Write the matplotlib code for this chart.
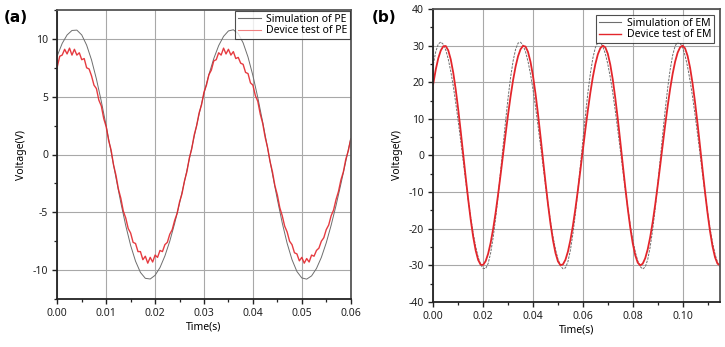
import matplotlib
matplotlib.use("Agg")
import matplotlib.pyplot as plt
from matplotlib.lines import Line2D
from matplotlib.ticker import MultipleLocator, FormatStrFormatter

plt.rcParams['font.family'] = ['Noto Sans', 'DejaVu Sans']
plt.rcParams['axes.unicode_minus'] = False

# ---------------- Panel (a): PE ----------------
pe_sim_t_ms = list(range(0, 61))
pe_sim_v = [8.55, 9.61, 10.34, 10.73, 10.76, 10.34, 9.46, 8.18, 6.53, 4.60,
            2.47, 0.23, -2.02, -4.19, -6.16, -7.87, -9.23, -10.20, -10.71, -10.77,
            -10.45, -9.78, -8.78, -7.50, -5.96, -4.22, -2.35, -0.39, 1.57, 3.49,
            5.29, 6.91, 8.30, 9.42, 10.22, 10.69, 10.79, 10.46, 9.66, 8.43,
            6.83, 4.93, 2.81, 0.57, -1.70, -3.89, -5.92, -7.68, -9.10, -10.12,
            -10.68, -10.78, -10.50, -9.86, -8.90, -7.64, -6.12, -4.41, -2.54, -0.59,
            1.38]

pe_dev_t_ms = [i * 0.5 for i in range(121)]
pe_dev_v = [7.6, 8.5, 8.6, 9.1, 8.7, 9.2, 8.6, 9.1, 8.6, 8.8,
            8.2, 8.3, 7.5, 7.4, 6.8, 6.0, 5.7, 4.7, 4.2, 3.1,
            2.4, 1.2, 0.4, -0.9, -1.8, -3.0, -3.8, -4.9, -5.5, -6.4,
            -6.8, -7.6, -7.7, -8.4, -8.4, -9.1, -8.8, -9.4, -8.9, -9.3,
            -8.7, -8.9, -8.3, -8.4, -7.8, -7.6, -6.9, -6.5, -5.7, -5.1,
            -4.1, -3.4, -2.3, -1.5, -0.3, 0.5, 1.7, 2.5, 3.6, 4.3,
            5.4, 6.0, 6.9, 7.3, 8.1, 8.2, 8.8, 8.6, 9.2, 8.7,
            9.1, 8.6, 8.9, 8.3, 8.4, 7.9, 7.8, 7.1, 7.0, 6.2,
            6.0, 5.1, 4.6, 3.5, 2.7, 1.5, 0.6, -0.6, -1.5, -2.7,
            -3.5, -4.6, -5.3, -6.2, -6.7, -7.5, -7.8, -8.5, -8.6, -9.2,
            -8.9, -9.4, -9.0, -9.3, -8.7, -8.8, -8.3, -8.1, -7.5, -7.2,
            -6.5, -6.1, -5.3, -4.8, -3.9, -3.2, -2.2, -1.5, -0.4, 0.3,
            1.3]

# ---------------- Panel (b): EM ----------------
em_t_ms = list(range(0, 116))
em_sim_v = [24.89, 28.39, 30.44, 30.99, 30.36, 28.78, 26.31, 23.00, 18.98, 14.38,
            9.32, 3.97, -1.51, -6.94, -12.15, -16.98, -21.28, -24.92, -27.78, -29.77,
            -30.83, -30.88, -29.49, -26.63, -22.44, -17.13, -10.97, -4.26, 2.67, 9.46,
            15.78, 21.31, 25.78, 28.96, 30.69, 30.93, 30.09, 28.31, 25.65, 22.18,
            18.02, 13.30, 8.16, 2.77, -2.71, -8.11, -13.25, -17.97, -22.13, -25.62,
            -28.29, -30.08, -30.93, -30.70, -28.98, -25.82, -21.37, -15.84, -9.53, -2.74,
            4.19, 10.90, 17.07, 22.39, 26.59, 29.47, 30.87, 30.83, 29.78, 27.80,
            24.95, 21.32, 17.03, 12.20, 6.99, 1.56, -3.91, -9.27, -14.33, -18.95,
            -22.97, -26.28, -28.76, -30.35, -30.99, -30.45, -28.41, -24.94, -20.23, -14.51,
            -8.06, -1.21, 5.70, 12.32, 18.33, 23.43, 27.35, 29.91, 30.97, 30.68,
            29.42, 27.24, 24.21, 20.42, 16.00, 11.08, 5.81, 0.36, -5.11, -10.41,
            -15.39, -19.88, -23.77, -26.90, -29.19, -30.57]
em_dev_v = [19.66, 23.51, 26.56, 28.68, 29.81, 29.89, 28.70, 26.24, 22.61, 17.99,
            12.56, 6.59, 0.31, -5.97, -11.99, -17.49, -22.19, -25.93, -28.52, -29.83,
            -29.87, -28.84, -26.81, -23.86, -20.08, -15.61, -10.59, -5.22, 0.34, 5.88,
            11.22, 16.18, 20.57, 24.26, 27.11, 29.02, 29.93, 29.74, 28.27, 25.54,
            21.68, 16.86, 11.29, 5.22, -1.08, -7.33, -13.25, -18.59, -23.11, -26.60,
            -28.91, -29.95, -29.73, -28.48, -26.24, -23.09, -19.15, -14.54, -9.44, -4.00,
            1.57, 7.08, 12.36, 17.20, 21.45, 24.96, 27.61, 29.30, 29.99, 29.53,
            27.77, 24.78, 20.69, 15.69, 9.99, 3.85, -2.47, -8.67, -14.49, -19.67,
            -23.97, -27.22, -29.25, -30.00, -29.54, -28.06, -25.62, -22.29, -18.19, -13.46,
            -8.27, -2.79, 2.79, 8.27, 13.46, 18.19, 22.29, 25.62, 28.07, 29.54,
            30.00, 29.25, 27.21, 23.96, 19.66, 14.48, 8.66, 2.46, -3.85, -9.99,
            -15.69, -20.70, -24.78, -27.77, -29.53, -29.98]

pe_xticks = [0.00, 0.01, 0.02, 0.03, 0.04, 0.05, 0.06]
pe_yticks = [-10, -5, 0, 5, 10]
em_xticks = [0.00, 0.02, 0.04, 0.06, 0.08, 0.10]
em_yticks = [-40, -30, -20, -10, 0, 10, 20, 30, 40]

W, H = 725, 347
fig = plt.figure(figsize=(W / 100, H / 100), dpi=100)

def px_axes(x0, y0, x1, y1):
    return fig.add_axes([x0 / W, 1 - y1 / H, (x1 - x0) / W, (y1 - y0) / H])

ax1 = px_axes(57.3, 10, 350.7, 299)
ax2 = px_axes(433.3, 9, 720, 302)

grid_kw = dict(color='#a8a8a8', linewidth=0.8)
sim_color = '#6e6e6e'
dev_color = '#e3262c'

def style(ax):
    ax.grid(True, which='major', **grid_kw)
    ax.set_axisbelow(True)
    for s in ['left', 'bottom']:
        ax.spines[s].set_color('#222222')
        ax.spines[s].set_linewidth(1.3)
    for s in ['top', 'right']:
        ax.spines[s].set_color('#555555')
        ax.spines[s].set_linewidth(1.3)
    ax.tick_params(which='major', direction='out', length=3.5, width=1.0,
                   labelsize=7.5, colors='#222222', pad=3)
    ax.tick_params(which='minor', direction='out', length=2.5, width=0.9, colors='#222222')
    ax.tick_params(top=False, right=False, which='both')

# Panel (a)
ax1.plot([t / 1000 for t in pe_sim_t_ms], pe_sim_v, color=sim_color, lw=0.7)
ax1.plot([t / 1000 for t in pe_dev_t_ms], pe_dev_v, color=dev_color, lw=1.0, alpha=0.9)
ax1.set_xlim(0, 0.06)
ax1.set_ylim(-12.5, 12.5)
ax1.set_xticks(pe_xticks)
ax1.set_yticks(pe_yticks)
ax1.xaxis.set_minor_locator(MultipleLocator(0.005))
ax1.yaxis.set_minor_locator(MultipleLocator(2.5))
ax1.xaxis.set_major_formatter(FormatStrFormatter('%.2f'))
style(ax1)
ax1.set_xlabel('Time(s)', fontsize=7.5, labelpad=2)
ax1.set_ylabel('Voltage(V)', fontsize=7.5, labelpad=4)
h1 = [Line2D([], [], color=sim_color, lw=0.8), Line2D([], [], color='#f08080', lw=0.8)]
leg1 = ax1.legend(h1, ['Simulation of PE', 'Device test of PE'], loc='upper right',
                  fontsize=7.5, frameon=True, fancybox=False, borderaxespad=0.1,
                  handlelength=2.2, handletextpad=0.5, borderpad=0.25, labelspacing=0.05)
leg1.get_frame().set_edgecolor('#222222')
leg1.get_frame().set_linewidth(0.8)

# Panel (b)
ax2.plot([t / 1000 for t in em_t_ms], em_sim_v, color=sim_color, lw=0.7,
         linestyle=(0, (2.5, 1.2)))
ax2.plot([t / 1000 for t in em_t_ms], em_dev_v, color=dev_color, lw=1.3)
ax2.set_xlim(0, 0.115)
ax2.set_ylim(-40, 40)
ax2.set_xticks(em_xticks)
ax2.set_yticks(em_yticks)
ax2.xaxis.set_minor_locator(MultipleLocator(0.01))
ax2.yaxis.set_minor_locator(MultipleLocator(5))
ax2.xaxis.set_major_formatter(FormatStrFormatter('%.2f'))
style(ax2)
ax2.set_xlabel('Time(s)', fontsize=7.5, labelpad=2)
ax2.set_ylabel('Voltage(V)', fontsize=7.5, labelpad=4)
h2 = [Line2D([], [], color=sim_color, lw=0.8), Line2D([], [], color=dev_color, lw=1.0)]
leg2 = ax2.legend(h2, ['Simulation of EM', 'Device test of EM'], loc='upper right',
                  fontsize=7.5, frameon=True, fancybox=False, borderaxespad=0.6,
                  handlelength=2.2, handletextpad=0.5, borderpad=0.25, labelspacing=0.05)
leg2.get_frame().set_edgecolor('#222222')
leg2.get_frame().set_linewidth(0.8)

fig.text(4 / W, 1 - 17 / H, '(a)', fontsize=11, fontweight='bold', family='DejaVu Sans',
         va='center', ha='left')
fig.text(372 / W, 1 - 17 / H, '(b)', fontsize=11, fontweight='bold', family='DejaVu Sans',
         va='center', ha='left')

fig.savefig('out.png', dpi=100)
